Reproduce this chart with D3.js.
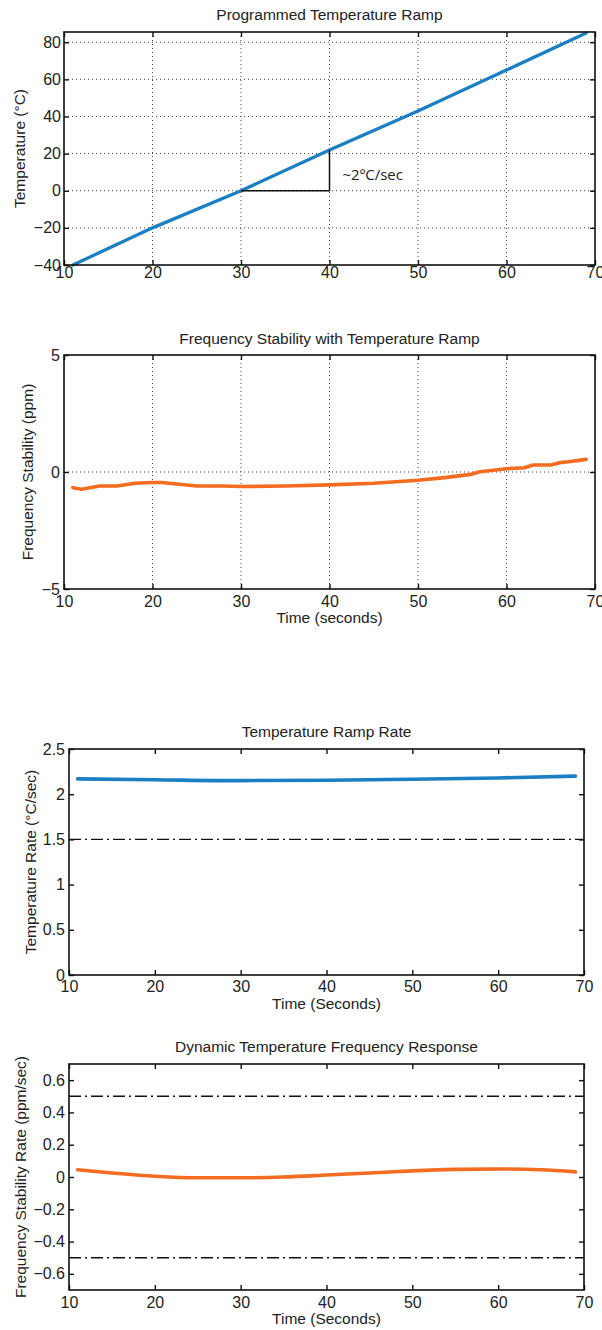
<!DOCTYPE html>
<html>
<head>
<meta charset="utf-8">
<script src="https://cdn.jsdelivr.net/npm/d3@7"></script>
<style>
    body { margin: 0; background: #fff; }
    text { font-family: "Liberation Sans", Arial, sans-serif; fill: #222; }
    .tick text { font-size: 16px; }
    .tick line { stroke: #111; stroke-width: 1.4; }
    .title, .xlabel, .ylabel { font-size: 15.5px; }
    .box { fill: none; stroke: #111; stroke-width: 1.6; }
    .grid { stroke: #444; stroke-width: 1; stroke-dasharray: 1,3; }
    .limit { stroke: #111; stroke-width: 1.4; stroke-dasharray: 12,4,2,4; fill: none; }
    .note { font-family: "Open Sans", sans-serif; font-size: 15px; }
</style>
</head>
<body>
<script>
// ---- data ----
const timeTicks = [10, 20, 30, 40, 50, 60, 70];

const rampTime = [11, 20, 30, 40, 50, 60, 69];
const rampTemp = [-40, -20, 0, 22, 43, 65, 85];
const rampTicks = [-40, -20, 0, 20, 40, 60, 80];
const slopeTime = [30, 40, 40];
const slopeTemp = [0, 0, 22];

const stabTime = [11, 12, 14, 16, 18, 20, 21, 23, 25, 28, 30, 35, 40, 45, 50, 53, 56, 57, 60, 62, 63, 65, 66, 67, 69];
const stabPpm = [-0.67, -0.74, -0.6, -0.6, -0.48, -0.45, -0.45, -0.52, -0.6, -0.6, -0.62, -0.6, -0.55, -0.48, -0.35, -0.24, -0.1, 0.01, 0.14, 0.18, 0.3, 0.3, 0.4, 0.44, 0.54];
const stabTicks = [-5, 0, 5];

const rateTime = [11, 20, 30, 40, 50, 60, 69];
const rateVal = [2.17, 2.16, 2.15, 2.155, 2.165, 2.18, 2.2];
const rateTicks = [0, 0.5, 1, 1.5, 2, 2.5];
const rateLimits = [1.5];

const respTime = [11, 15, 20, 25, 30, 35, 40, 45, 50, 55, 60, 65, 69];
const respVal = [0.045, 0.025, 0.005, -0.005, -0.005, 0.0, 0.012, 0.025, 0.038, 0.047, 0.05, 0.045, 0.032];
const respTicks = [-0.6, -0.4, -0.2, 0, 0.2, 0.4, 0.6];
const respLimits = [0.5, -0.5];

const BLUE = "#1b7fc3";
const ORANGE = "#f36c1f";

const fig = {};

const svg = d3.select("body").append("svg")
    .attr("width", 602)
    .attr("height", 1330);

/**
 * Draw one matlab-style panel
 * @param p: panel settings (box, scales, labels, series)
 */
fig.panel = (p) => {
    const x = d3.scaleLinear().domain([10, 70]).range([p.left, p.right]);
    const y = d3.scaleLinear().domain(p.yDomain).range([p.bottom, p.top]);
    const g = svg.append("g");
    const fmt = d3.format("~g");

    if (p.grid) {
        g.selectAll(".gx").data(timeTicks.filter(t => t > 10 && t < 70))
            .enter().append("line").attr("class", "grid")
            .attr("x1", d => x(d)).attr("x2", d => x(d))
            .attr("y1", p.top).attr("y2", p.bottom);
        g.selectAll(".gy").data(p.yTicks.filter(t => y(t) > p.top + 1 && y(t) < p.bottom - 1))
            .enter().append("line").attr("class", "grid")
            .attr("x1", p.left).attr("x2", p.right)
            .attr("y1", d => y(d)).attr("y2", d => y(d));
    }

    // ticks on all four sides, pointing inwards
    g.append("g").attr("transform", "translate(0," + p.bottom + ")")
        .call(d3.axisBottom(x).tickValues(timeTicks).tickSizeInner(-5).tickSizeOuter(0)
            .tickPadding(p.xPad).tickFormat(fmt));
    g.append("g").attr("transform", "translate(0," + p.top + ")")
        .call(d3.axisTop(x).tickValues(timeTicks).tickSizeInner(-5).tickSizeOuter(0).tickFormat(""));
    g.append("g").attr("transform", "translate(" + p.left + ",0)")
        .call(d3.axisLeft(y).tickValues(p.yTicks).tickSizeInner(-5).tickSizeOuter(0)
            .tickPadding(p.yPad).tickFormat(fmt));
    g.append("g").attr("transform", "translate(" + p.right + ",0)")
        .call(d3.axisRight(y).tickValues(p.yTicks).tickSizeInner(-5).tickSizeOuter(0).tickFormat(""));
    g.selectAll(".domain").remove();
    g.selectAll(".tick text").attr("fill", "#222");

    (p.limits || []).forEach(v => {
        g.append("line").attr("class", "limit")
            .attr("x1", x(10)).attr("x2", x(70))
            .attr("y1", y(v)).attr("y2", y(v));
    });

    const line = d3.line()
        .x(d => x(d[0]))
        .y(d => y(d[1]));
    if (p.smooth) line.curve(d3.curveMonotoneX);

    g.append("path")
        .datum(d3.zip(p.xs, p.ys))
        .attr("fill", "none")
        .attr("stroke", p.color)
        .attr("stroke-width", p.width)
        .attr("stroke-linejoin", "round")
        .attr("stroke-linecap", "round")
        .attr("d", line);

    g.append("rect").attr("class", "box")
        .attr("x", p.left).attr("y", p.top)
        .attr("width", p.right - p.left).attr("height", p.bottom - p.top);

    g.append("text").attr("class", "title")
        .attr("x", (p.left + p.right) / 2).attr("y", p.titleY)
        .attr("text-anchor", "middle").text(p.title);

    if (p.xLabel) {
        g.append("text").attr("class", "xlabel")
            .attr("x", (p.left + p.right) / 2).attr("y", p.xLabelY)
            .attr("text-anchor", "middle").text(p.xLabel);
    }

    g.append("text").attr("class", "ylabel")
        .attr("transform", "translate(" + p.yLabelX + "," + (p.top + p.bottom) / 2 + ") rotate(-90)")
        .attr("text-anchor", "middle").text(p.yLabel);

    return { g, x, y };
};

// panel 1
const p1 = fig.panel({
    left: 64, right: 595, top: 32, bottom: 265,
    yDomain: [-40, 85.5], yTicks: rampTicks, grid: true,
    xPad: 2, yPad: 3,
    xs: rampTime, ys: rampTemp, color: BLUE, width: 3.3,
    title: "Programmed Temperature Ramp", titleY: 19.5,
    yLabel: "Temperature (°C)", yLabelX: 25
});

p1.g.append("path")
    .datum(d3.zip(slopeTime, slopeTemp))
    .attr("fill", "none")
    .attr("stroke", "#111")
    .attr("stroke-width", 1.5)
    .attr("d", d3.line().x(d => p1.x(d[0])).y(d => p1.y(d[1])));

p1.g.append("text").attr("class", "note")
    .attr("x", p1.x(40) + 13).attr("y", 180)
    .text("~2ºC/sec");

// panel 2
fig.panel({
    left: 64, right: 595, top: 355, bottom: 589,
    yDomain: [-5, 5], yTicks: stabTicks, grid: true,
    xPad: 7, yPad: 4,
    xs: stabTime, ys: stabPpm, color: ORANGE, width: 3.6,
    title: "Frequency Stability with Temperature Ramp", titleY: 344,
    xLabel: "Time (seconds)", xLabelY: 623,
    yLabel: "Frequency Stability (ppm)", yLabelX: 33
});

// panel 3
fig.panel({
    left: 69, right: 584, top: 749, bottom: 975,
    yDomain: [0, 2.5], yTicks: rateTicks, grid: false,
    xPad: 6, yPad: 4, limits: rateLimits, smooth: true,
    xs: rateTime, ys: rateVal, color: BLUE, width: 3.6,
    title: "Temperature Ramp Rate", titleY: 736.5,
    xLabel: "Time (Seconds)", xLabelY: 1009,
    yLabel: "Temperature Rate (°C/sec)", yLabelX: 36
});

// panel 4
fig.panel({
    left: 69, right: 584, top: 1064, bottom: 1290,
    yDomain: [-0.7, 0.7], yTicks: respTicks, grid: false,
    xPad: 7, yPad: 4, limits: respLimits, smooth: true,
    xs: respTime, ys: respVal, color: ORANGE, width: 3.6,
    title: "Dynamic Temperature Frequency Response", titleY: 1051.5,
    xLabel: "Time (Seconds)", xLabelY: 1324,
    yLabel: "Frequency Stability Rate (ppm/sec)", yLabelX: 26
});
</script>
</body>
</html>
